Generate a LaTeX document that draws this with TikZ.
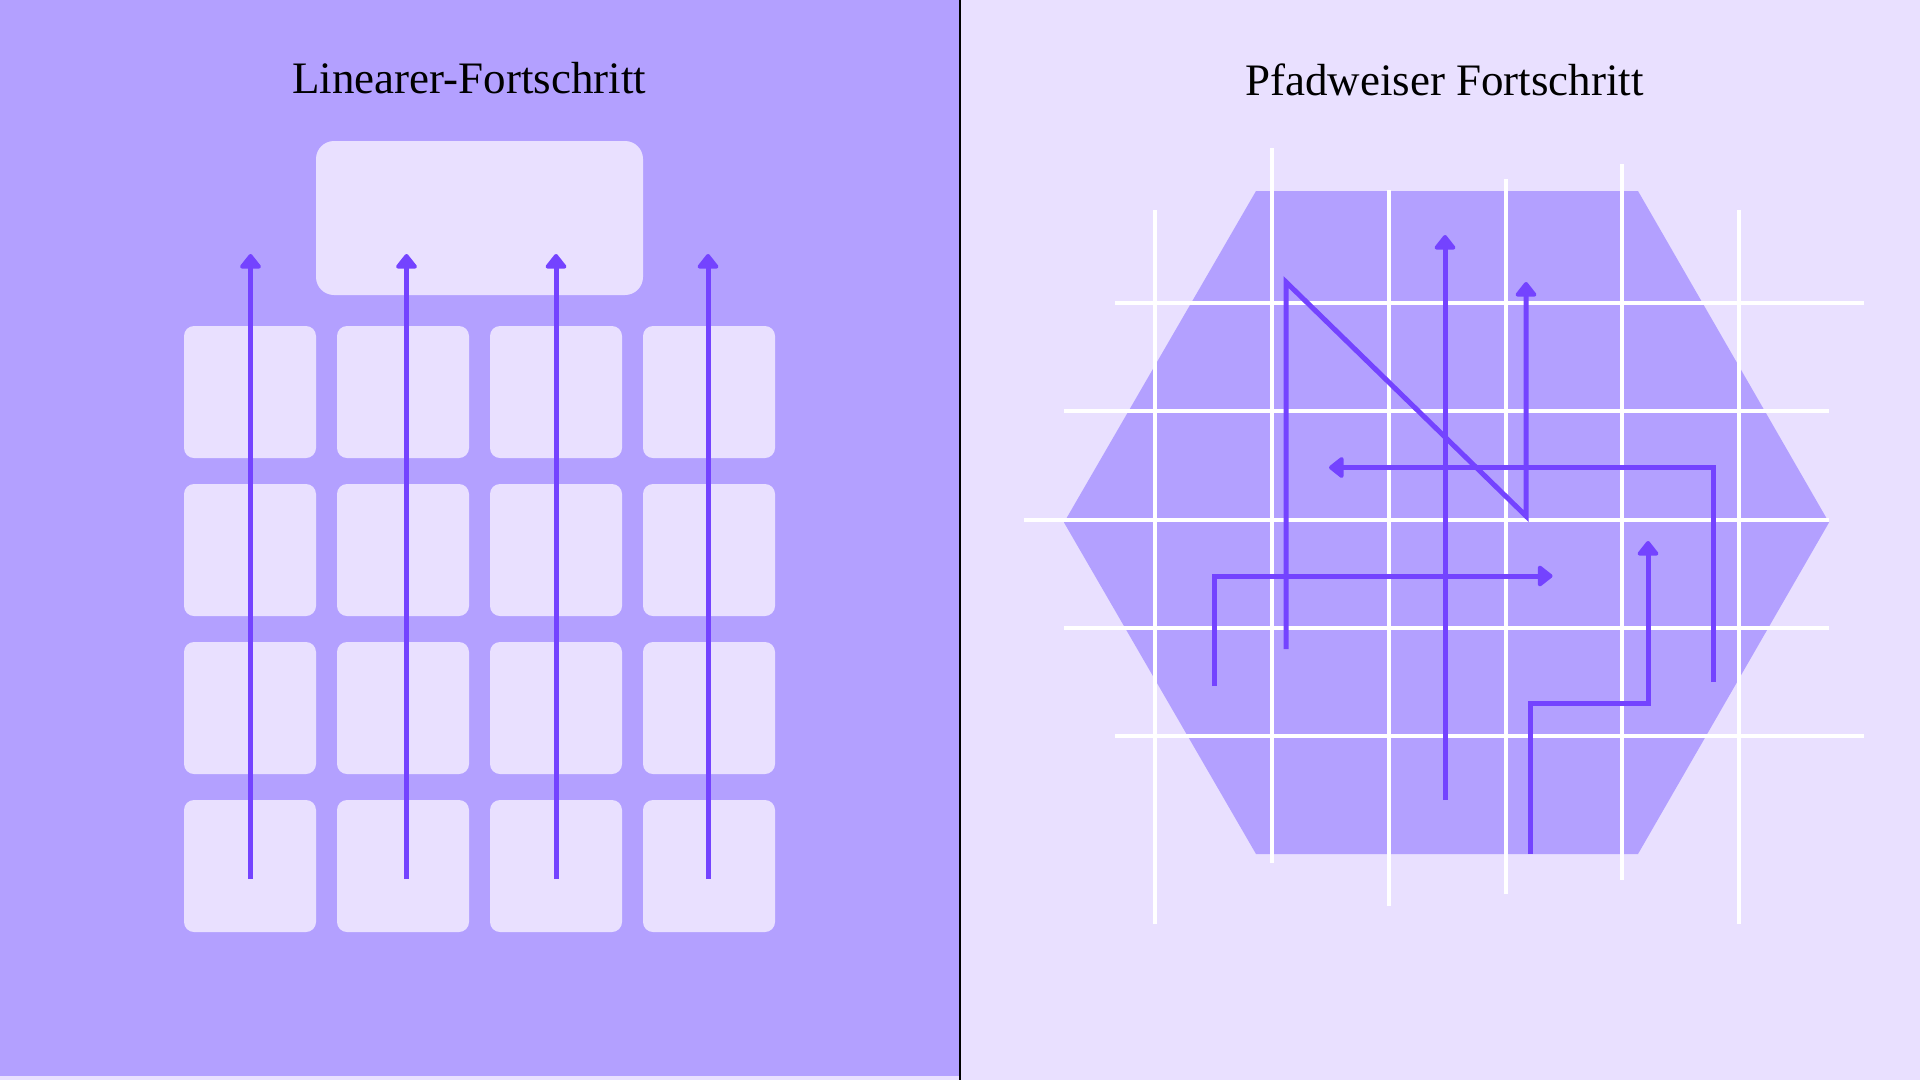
\documentclass[tikz,border=0pt]{standalone}
\usepackage{fontspec}
\setmainfont{Liberation Serif}
\usetikzlibrary{arrows.meta}
\definecolor{bgdark}{HTML}{B3A0FF}
\definecolor{bglight}{HTML}{E9E0FF}
\definecolor{arr}{HTML}{7443FF}
\tikzset{
  tile/.style={fill=bglight, rounded corners=10pt, minimum width=132pt, minimum height=132pt, inner sep=0pt, draw=none},
  bigtile/.style={fill=bglight, rounded corners=18pt, minimum width=327pt, minimum height=154pt, inner sep=0pt, draw=none},
  flow/.style={draw=arr, line width=5pt, miter limit=20, -{Triangle[length=16pt,width=24pt,round]}},
  gridline/.style={draw=white, line width=4pt},
  title/.style={font=\fontsize{45}{54}\selectfont, text=black, anchor=base, inner sep=0pt}
}
\begin{document}
\begin{tikzpicture}[x=1pt,y=-1pt]
\useasboundingbox (0,0) rectangle (1920,1080);
% backgrounds
\fill[bglight] (0,0) rectangle (1920,1080);
\fill[bgdark] (0,0) rectangle (959,1076);
\fill[black] (959,0) rectangle (961,1080);

% titles
\node[title] (t1) at (469,93) {Linearer-Fortschritt};
\node[title] (t2) at (1444.5,95) {Pfadweiser Fortschritt};

% left panel tiles
\node[bigtile] (top) at (479.5,218) {};
\foreach \c/\x in {1/250,2/403,3/556,4/709}{
  \foreach \r/\y in {1/392,2/550,3/708,4/866}{
    \node[tile] (s\r\c) at (\x,\y) {};
  }
}

% left arrows
\foreach \i/\x in {1/250.5,2/406.5,3/556,4/708}{
  \coordinate (la\i s) at (\x,879);
  \coordinate (la\i e) at (\x,254);
  \draw[flow] (la\i s) -- (la\i e);
}

% right panel hexagon
\fill[bgdark] (1256,191) -- (1638,191) -- (1829,522.5) -- (1638,854) -- (1256,854) -- (1064,522.5) -- cycle;

% grid lines
\draw[gridline] (1155,210) -- (1155,924);
\draw[gridline] (1272,148) -- (1272,863);
\draw[gridline] (1388.5,190) -- (1388.5,906);
\draw[gridline] (1505.5,179) -- (1505.5,894);
\draw[gridline] (1622,164) -- (1622,880);
\draw[gridline] (1739,210) -- (1739,924);
\draw[gridline] (1115,303) -- (1864,303);
\draw[gridline] (1064,411) -- (1829,411);
\draw[gridline] (1024,520) -- (1829,520);
\draw[gridline] (1064,627.5) -- (1829,627.5);
\draw[gridline] (1115,736) -- (1864,736);

% right paths
\coordinate (p1a) at (1286,649);
\coordinate (p1b) at (1286,282);
\coordinate (p1c) at (1526,516);
\coordinate (p1d) at (1526,282);
\draw[flow] (p1a) -- (p1b) -- (p1c) -- (p1d);

\coordinate (p2a) at (1445,800);
\coordinate (p2b) at (1445,235);
\draw[flow] (p2a) -- (p2b);

\coordinate (p3a) at (1713,682);
\coordinate (p3b) at (1713,467.5);
\coordinate (p3c) at (1329,467.5);
\draw[flow] (p3a) -- (p3b) -- (p3c);

\coordinate (p4a) at (1214.5,686);
\coordinate (p4b) at (1214.5,576);
\coordinate (p4c) at (1552.5,576);
\draw[flow] (p4a) -- (p4b) -- (p4c);

\coordinate (p5a) at (1530,853.5);
\coordinate (p5b) at (1530,703);
\coordinate (p5c) at (1648,703);
\coordinate (p5d) at (1648,541);
\draw[flow] (p5a) -- (p5b) -- (p5c) -- (p5d);
\end{tikzpicture}
\end{document}
